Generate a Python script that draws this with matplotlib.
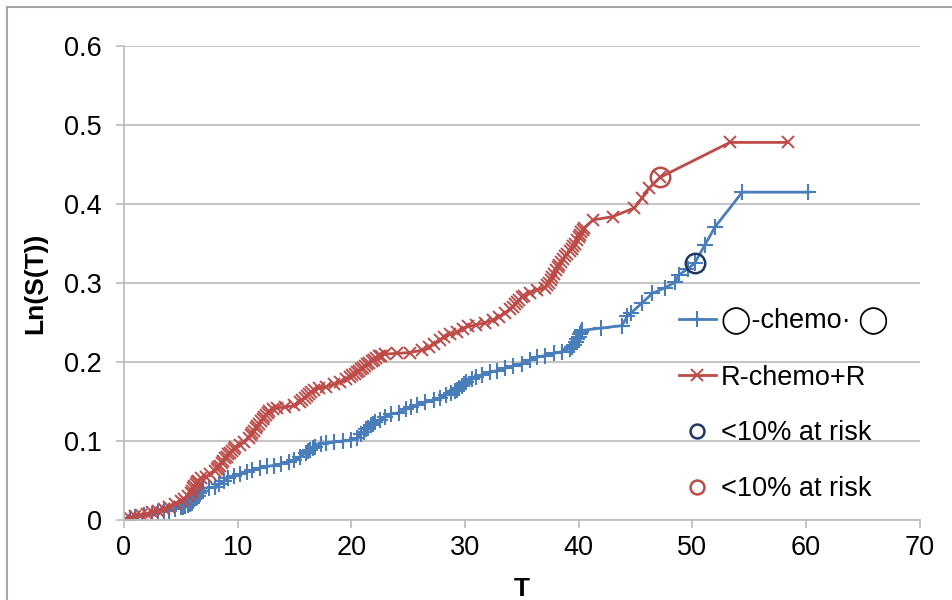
import matplotlib
matplotlib.use('Agg')
import matplotlib.pyplot as plt
from matplotlib.lines import Line2D
from matplotlib.patches import Rectangle

plt.rcParams['font.family'] = ['Liberation Sans', 'DejaVu Sans']

# blue series (+ markers)
blue_t = [0, 0.5, 1, 1.8, 2.5, 3, 3.5, 4, 4.5, 5, 5.2, 5.4, 5.6, 5.8, 6.0, 6.1, 6.2, 6.3, 6.5, 6.6,
          6.8, 7, 7.5, 8, 8.4, 8.8, 9.2, 9.7, 10.2, 10.8, 11.3, 12, 12.6, 13.2, 13.8, 14.5, 15,
          15.5, 16, 16.2, 16.4, 16.6, 16.8, 17.3, 17.8, 18.5, 19.3, 20, 20.5, 20.9, 21.1, 21.3,
          21.5, 21.7, 21.9, 22.1, 22.5, 23, 23.5, 24.2, 24.8, 25.3, 25.8, 26.5, 27.3, 27.8, 28.3,
          28.8, 29.1, 29.3, 29.5, 29.7, 29.9, 30.1, 30.6, 31, 31.5, 32.2, 32.8, 33.5, 34.2, 35,
          35.7, 36.3, 37, 37.8, 38.5, 39.2, 39.4, 39.6, 39.8, 39.9, 40.0, 40.1, 40.2, 40.3, 42,
          43.8, 44.3, 44.6, 45.6, 46.5, 47.6, 48.5, 48.8, 49.6, 50.2, 51.1, 52, 54.4, 60.2]
blue_s = [0, 0.002, 0.004, 0.006, 0.008, 0.010, 0.011, 0.012, 0.014, 0.016, 0.017, 0.018, 0.019,
          0.020, 0.022, 0.024, 0.026, 0.028, 0.031, 0.034, 0.037, 0.040, 0.041, 0.042, 0.045,
          0.049, 0.053, 0.056, 0.058, 0.061, 0.063, 0.066, 0.068, 0.069, 0.071, 0.073, 0.076,
          0.080, 0.085, 0.087, 0.089, 0.091, 0.093, 0.096, 0.098, 0.099, 0.100, 0.101, 0.104,
          0.109, 0.112, 0.115, 0.117, 0.120, 0.122, 0.124, 0.127, 0.131, 0.134, 0.136, 0.140,
          0.143, 0.146, 0.149, 0.152, 0.155, 0.158, 0.161, 0.163, 0.165, 0.167, 0.170, 0.172,
          0.175, 0.178, 0.181, 0.184, 0.187, 0.189, 0.192, 0.195, 0.198, 0.202, 0.206, 0.208,
          0.211, 0.213, 0.217, 0.219, 0.222, 0.225, 0.229, 0.232, 0.236, 0.238, 0.240, 0.243,
          0.246, 0.258, 0.262, 0.275, 0.287, 0.294, 0.301, 0.310, 0.318, 0.325, 0.348, 0.371,
          0.415, 0.415]

# red series (x markers)
red_t = [0, 0.5, 1, 1.5, 2, 2.5, 3, 3.5, 4, 4.5, 5, 5.3, 5.6, 5.9, 6.0, 6.1, 6.2, 6.3, 6.4, 6.5,
         6.8, 7.2, 7.6, 8, 8.15, 8.3, 8.45, 8.6, 8.75, 8.9, 9.05, 9.2, 9.35, 9.5, 9.65, 9.8, 10.2,
         10.6, 11, 11.15, 11.3, 11.45, 11.6, 11.75, 11.9, 12.05, 12.2, 12.35, 12.5, 12.65, 12.8,
         13.1, 13.5, 14.2, 15, 15.5, 15.7, 15.9, 16.1, 16.3, 16.5, 16.7, 17.2, 17.8, 18.5, 19,
         19.5, 19.9, 20.1, 20.3, 20.5, 20.7, 20.85, 21, 21.2, 21.4, 21.6, 21.8, 22.0, 22.2, 22.4,
         22.6, 23, 24, 25.2, 26.2, 26.8, 27.3, 27.8, 28.2, 28.7, 29.3, 29.8, 30.3, 31, 31.8,
         32.5, 33, 33.5, 34, 34.2, 34.4, 34.6, 34.8, 35.0, 35.2, 35.7, 36.3, 37, 37.2, 37.4, 37.55,
         37.7, 37.85, 38, 38.15, 38.3, 38.45, 38.6, 38.8, 39, 39.2, 39.4, 39.55, 39.7, 39.85, 40,
         40.1, 40.2, 40.35, 40.5, 41.3, 43, 44.9, 45.6, 46.2, 47.2, 53.3, 58.4]
red_s = [0, 0.003, 0.005, 0.006, 0.008, 0.010, 0.012, 0.014, 0.017, 0.020, 0.024, 0.027, 0.030,
         0.034, 0.037, 0.040, 0.043, 0.046, 0.048, 0.050, 0.053, 0.055, 0.058, 0.062, 0.064,
         0.067, 0.069, 0.072, 0.075, 0.078, 0.080, 0.083, 0.085, 0.088, 0.090, 0.092, 0.095,
         0.099, 0.104, 0.107, 0.110, 0.113, 0.116, 0.119, 0.122, 0.125, 0.128, 0.130, 0.133,
         0.135, 0.138, 0.141, 0.142, 0.143, 0.145, 0.150, 0.152, 0.155, 0.157, 0.160, 0.162,
         0.164, 0.167, 0.169, 0.172, 0.175, 0.178, 0.181, 0.183, 0.185, 0.187, 0.189, 0.191,
         0.193, 0.195, 0.197, 0.199, 0.201, 0.203, 0.205, 0.207, 0.208, 0.210, 0.211, 0.212,
         0.215, 0.219, 0.223, 0.228, 0.232, 0.235, 0.238, 0.242, 0.245, 0.247, 0.250, 0.253,
         0.257, 0.262, 0.267, 0.270, 0.273, 0.276, 0.279, 0.282, 0.284, 0.288, 0.291, 0.294,
         0.297, 0.300, 0.304, 0.308, 0.312, 0.316, 0.320, 0.323, 0.327, 0.330, 0.334, 0.337,
         0.340, 0.343, 0.347, 0.350, 0.354, 0.358, 0.361, 0.364, 0.367, 0.370, 0.380, 0.384,
         0.395, 0.408, 0.420, 0.434, 0.478, 0.478]

# "<10% at risk" points
risk_blue = (50.2, 0.325)
risk_red = (47.2, 0.434)

blue = '#4a7ebb'
red = '#be4b48'
grey = '#bfbfbf'

fig = plt.figure(figsize=(9.53, 6), dpi=100)
ax = fig.add_axes([0.130, 0.1333, 0.835, 0.79])

ax.plot(blue_t, blue_s, color=blue, lw=2, marker='+', ms=11, mew=1.5)
ax.plot(red_t, red_s, color=red, lw=2, marker='x', ms=9, mew=1.4)
ax.plot(*risk_blue, 'o', ms=14, mfc='none', mec='#1f3864', mew=1.8)
ax.plot(*risk_red, 'o', ms=14, mfc='none', mec=red, mew=1.8)

ax.set_xlim(0, 70)
ax.set_ylim(0, 0.6)
ax.set_xticks(range(0, 71, 10))
ax.set_yticks([0, 0.1, 0.2, 0.3, 0.4, 0.5, 0.6])
ax.set_yticklabels(['0', '0.1', '0.2', '0.3', '0.4', '0.5', '0.6'])
ax.yaxis.grid(True, color=grey, lw=1.3)
ax.set_axisbelow(True)
for s in ['top', 'right']:
    ax.spines[s].set_visible(False)
for s in ['left', 'bottom']:
    ax.spines[s].set_color(grey)
    ax.spines[s].set_linewidth(1.3)
ax.tick_params(axis='both', colors=grey, labelcolor='black', labelsize=19.5, width=1.3, length=6)
ax.tick_params(axis='x', pad=5)
ax.tick_params(axis='y', pad=10)

ax.set_xlabel('T', fontsize=19, fontweight='bold', labelpad=11)
ax.set_ylabel('Ln(S(T))', fontsize=19, fontweight='bold', labelpad=12)

handles = [
    Line2D([], [], color=blue, lw=2, marker='+', ms=11, mew=1.5),
    Line2D([], [], color=red, lw=2, marker='x', ms=9, mew=1.4),
    Line2D([], [], ls='none', marker='o', ms=10, mfc='none', mec='#1f3864', mew=1.8),
    Line2D([], [], ls='none', marker='o', ms=10, mfc='none', mec=red, mew=1.8),
]
labels = ['\u25ef-chemo\u00b7 \u25ef', 'R-chemo+R', '<10% at risk', '<10% at risk']
ax.legend(handles, labels, loc='upper left', bbox_to_anchor=(0.697, 0.449),
          frameon=False, fontsize=19.5, handlelength=1.4, handletextpad=0.15,
          labelspacing=1.1, borderpad=0, borderaxespad=0)

# outer frame of the pasted chart
fig.patches.append(Rectangle((7 / 953, -0.1), 1.2, 1 - 7 / 600 + 0.1, transform=fig.transFigure,
                             fill=False, ec='#a6a6a6', lw=1.5))

fig.savefig('out.png', dpi=100)
